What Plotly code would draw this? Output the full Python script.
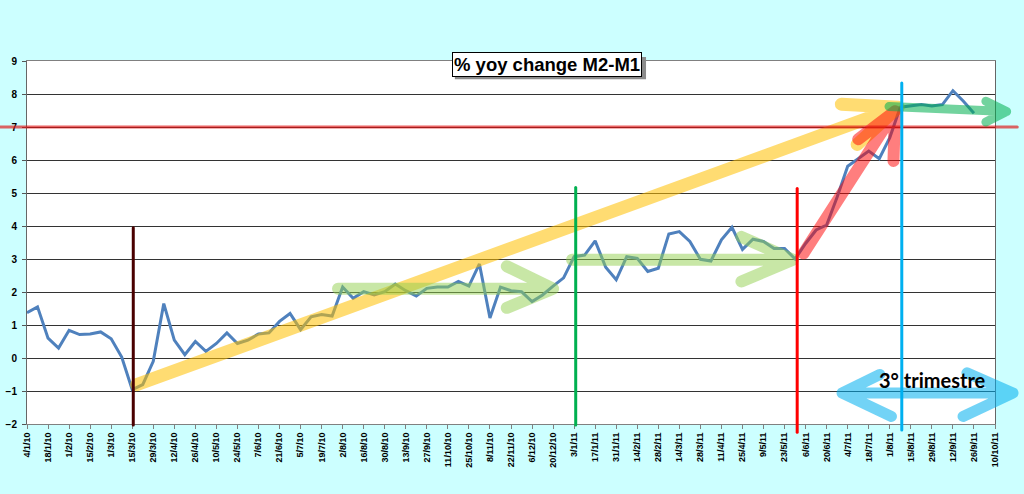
import plotly.graph_objects as go

# weekly readings, 4/1/10 .. 26/9/11
m2_m1 = [
    1.37, 1.55, 0.60, 0.30, 0.84, 0.71, 0.73, 0.79, 0.58, 0.03,
    -0.96, -0.81, -0.10, 1.65, 0.54, 0.10, 0.50, 0.20, 0.44, 0.76,
    0.44, 0.54, 0.73, 0.76, 1.11, 1.35, 0.86, 1.25, 1.32, 1.27,
    2.15, 1.81, 2.01, 1.91, 2.01, 2.24, 2.04, 1.88, 2.11, 2.15,
    2.15, 2.32, 2.18, 2.85, 1.21, 2.15, 2.04, 2.01, 1.71, 1.91,
    2.18, 2.43, 3.07, 3.12, 3.55, 2.75, 2.37, 3.07, 3.02, 2.62,
    2.72, 3.76, 3.83, 3.53, 2.99, 2.94, 3.58, 3.96, 3.29, 3.60,
    3.53, 3.32, 3.32, 3.00, 3.47, 3.88, 4.03, 4.88, 5.81, 6.04,
    6.27, 6.04, 6.68, 7.60, 7.65, 7.68, 7.64, 7.68, 8.10, 7.78,
    7.42,
]
weeks = list(range(len(m2_m1)))

tick_labels = [
    "4/1/10", "18/1/10", "1/2/10", "15/2/10", "1/3/10", "15/3/10",
    "29/3/10", "12/4/10", "26/4/10", "10/5/10", "24/5/10", "7/6/10",
    "21/6/10", "5/7/10", "19/7/10", "2/8/10", "16/8/10", "30/8/10",
    "13/9/10", "27/9/10", "11/10/10", "25/10/10", "8/11/10", "22/11/10",
    "6/12/10", "20/12/10", "3/1/11", "17/1/11", "31/1/11", "14/2/11",
    "28/2/11", "14/3/11", "28/3/11", "11/4/11", "25/4/11", "9/5/11",
    "23/5/11", "6/6/11", "20/6/11", "4/7/11", "18/7/11", "1/8/11",
    "15/8/11", "29/8/11", "12/9/11", "26/9/11", "10/10/11",
]
tick_weeks = list(range(0, 2 * len(tick_labels), 2))

X_MAX = 92
FONT = "Liberation Sans"


def py(v):
    # value -> paper y
    return (v + 2) / 11


def arrow_path(start, tip, arms):
    # shaft plus chevron arms as separate sub-paths (one stroke, no spikes)
    p = "M %s,%s L %s,%s" % (start[0], start[1], tip[0], tip[1])
    for a in arms:
        p += " M %s,%s L %s,%s" % (a[0], a[1], tip[0], tip[1])
    return p


fig = go.Figure()

fig.add_trace(
    go.Scatter(
        x=weeks,
        y=m2_m1,
        mode="lines",
        line=dict(color="#4F81BD", width=3),
        hoverinfo="x+y",
        showlegend=False,
    )
)

shapes = []

# title shadow
shapes.append(dict(
    type="rect", xref="paper", yref="paper",
    x0=0.442, x1=0.6395, y0=0.950, y1=1.011,
    fillcolor="#8C8C8C", line=dict(width=0), layer="above",
))

# yellow long-run arrow
shapes.append(dict(
    type="path", xref="x", yref="y",
    path=arrow_path((10.43, -0.81), (82.8, 7.6), [(77.4, 7.69), (78.9, 6.47)]),
    line=dict(color="#FFC000", width=13), opacity=0.55,
))
# green flat arrows
shapes.append(dict(
    type="path", xref="x", yref="y",
    path=arrow_path((29.56, 2.10), (50.0, 2.10), [(45.6, 2.78), (45.6, 1.52)]),
    line=dict(color="#92D050", width=12), opacity=0.5,
))
shapes.append(dict(
    type="path", xref="x", yref="y",
    path=arrow_path((51.8, 2.98), (72.8, 2.98), [(67.9, 3.67), (67.9, 2.32)]),
    line=dict(color="#92D050", width=12), opacity=0.5,
))
# red steep arrow
shapes.append(dict(
    type="path", xref="x", yref="y",
    path=arrow_path((73.8, 3.17), (82.5, 7.48), [(79.0, 6.63), (82.35, 5.97)]),
    line=dict(color="#FF0000", width=12), opacity=0.5,
))

# red level line at 7
shapes.append(dict(
    type="line", xref="paper", yref="y",
    x0=-0.028, x1=1.023, y0=7, y1=7,
    line=dict(color="#E01010", width=3), opacity=0.65,
))

# green arrow leaving the plot
shapes.append(dict(
    type="path", xref="paper", yref="y",
    path=arrow_path((0.8905, 7.62), (1.012, 7.47), [(0.9906, 7.78), (0.9906, 7.15)]),
    line=dict(color="#00B050", width=9), opacity=0.55,
))

# light blue double arrow (3rd quarter)
shapes.append(dict(
    type="path", xref="paper", yref="y",
    path=(arrow_path((0.842, -1.06), (1.0186, -1.06), [(0.971, -0.45), (0.967, -1.77)])
          + " " + arrow_path((1.0186, -1.06), (0.842, -1.06), [(0.881, -0.50), (0.893, -1.77)])),
    line=dict(color="#00B0F0", width=11), opacity=0.55,
))

# vertical markers
for week, top, bottom, color in [
    (10.1, 3.95, -2.03, "#4A0000"),
    (52.15, 5.17, -2.03, "#00B050"),
    (73.2, 5.14, -2.25, "#FF0000"),
    (83.14, 8.33, -2.18, "#00B0F0"),
]:
    shapes.append(dict(
        type="line", xref="x", yref="paper",
        x0=week, x1=week, y0=py(bottom), y1=py(top),
        line=dict(color=color, width=3),
    ))

fig.update_layout(shapes=shapes)

fig.add_annotation(
    x=0.5375, y=0.99, xref="paper", yref="paper",
    xanchor="center", yanchor="middle",
    text="<b>% yoy change M2-M1</b>",
    showarrow=False,
    font=dict(family=FONT, size=18.5, color="black"),
    bgcolor="white", borderpad=1, borderwidth=1, bordercolor="black",
)

fig.add_annotation(
    x=0.935, y=-0.66, xref="paper", yref="y",
    xanchor="center", yanchor="middle",
    text="<b>3° trimestre</b>",
    showarrow=False,
    font=dict(family="Lato", size=20, color="black"),
)

fig.update_xaxes(
    range=[0, X_MAX],
    tickmode="array",
    tickvals=tick_weeks,
    ticktext=tick_labels,
    tickangle=-90,
    tickfont=dict(family=FONT, size=9, color="black", weight="bold"),
    ticks="outside",
    ticklen=4,
    tickcolor="#808080",
    showgrid=False,
    zeroline=False,
    showline=True,
    linecolor="#808080",
    linewidth=1,
    mirror=True,
    automargin=False,
)

fig.update_yaxes(
    range=[-2, 9],
    dtick=1,
    tickfont=dict(family=FONT, size=10, color="black", weight="bold"),
    ticklabelstandoff=3,
    ticks="outside",
    ticklen=4,
    tickcolor="#555555",
    showgrid=True,
    gridcolor="#333333",
    gridwidth=1,
    zeroline=False,
    showline=True,
    linecolor="#666666",
    linewidth=1,
    mirror=True,
    automargin=False,
)

fig.update_layout(
    width=1024,
    height=494,
    paper_bgcolor="#CCFFFF",
    plot_bgcolor="white",
    margin=dict(l=27, r=29, t=61, b=70),
    showlegend=False,
)

# drop the browser's default page margin and round the arrow strokes
post = (
    "document.body.style.margin='0';"
    "document.body.style.background='#CCFFFF';"
    "document.querySelectorAll('.shapelayer path').forEach(function(p){"
    "p.style.strokeLinecap='round';p.style.strokeLinejoin='round';});"
)

fig.write_html("out.html", post_script=post, config={"displayModeBar": False})
